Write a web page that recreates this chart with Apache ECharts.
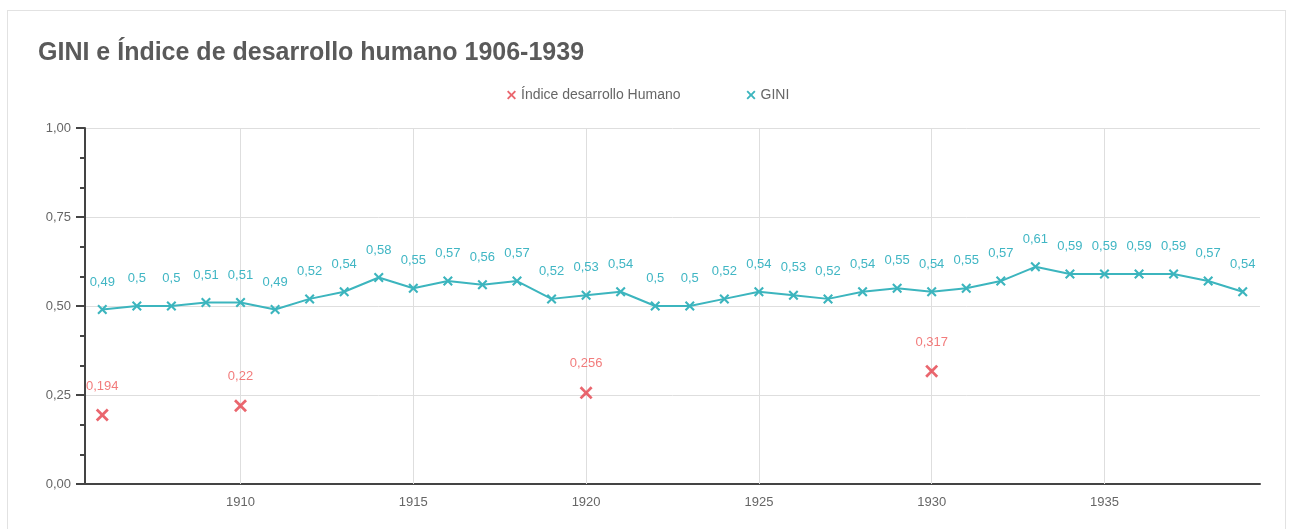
<!DOCTYPE html>
<html>
<head>
<meta charset="utf-8">
<script src="https://cdn.jsdelivr.net/npm/echarts@6/dist/echarts.min.js"></script>
<style>
  html, body { margin: 0; padding: 0; background: #fff; }
  .card { position: absolute; left: 7px; top: 10px; width: 1277px; height: 540px; border: 1px solid #e2e2e2; }
  #main { position: absolute; left: 0; top: 0; width: 1291px; height: 529px; }
</style>
</head>
<body>
<div class="card"></div>
<div id="main"></div>
<script>
// años del eje x
const years = [1906, 1907, 1908, 1909, 1910, 1911, 1912, 1913, 1914, 1915, 1916, 1917,
  1918, 1919, 1920, 1921, 1922, 1923, 1924, 1925, 1926, 1927, 1928, 1929, 1930, 1931,
  1932, 1933, 1934, 1935, 1936, 1937, 1938, 1939];
// GINI por año
const gini = [0.49, 0.5, 0.5, 0.51, 0.51, 0.49, 0.52, 0.54, 0.58, 0.55, 0.57, 0.56,
  0.57, 0.52, 0.53, 0.54, 0.5, 0.5, 0.52, 0.54, 0.53, 0.52, 0.54, 0.55, 0.54, 0.55,
  0.57, 0.61, 0.59, 0.59, 0.59, 0.59, 0.57, 0.54];
// Índice de desarrollo humano (solo algunos años)
const idhYears = [1906, 1910, 1920, 1930];
const idhValues = [0.194, 0.22, 0.256, 0.317];
const yTicks = [0, 0.25, 0.5, 0.75, 1];
// años con etiqueta y línea vertical
const gridYears = [1910, 1915, 1920, 1925, 1930, 1935];

const coma = v => String(v).replace('.', ',');
const cross = 'path://M0,1.5L1.5,0L5,3.5L8.5,0L10,1.5L6.5,5L10,8.5L8.5,10L5,6.5L1.5,10L0,8.5L3.5,5Z';

const dom = document.getElementById('main');
const myChart = echarts.init(dom);

const cats = years.map(String);
const every5 = (i, v) => gridYears.includes(Number(v));

const option = {
  animation: false,
  textStyle: { fontFamily: 'Liberation Sans, Arial, sans-serif' },
  title: {
    text: 'GINI e Índice de desarrollo humano 1906-1939',
    left: 33,
    top: 36,
    textStyle: { fontSize: 25, fontWeight: 'bold', color: '#5a5a5a' }
  },
  legend: {
    top: 83,
    left: 502,
    itemWidth: 9,
    itemHeight: 9,
    itemGap: 66,
    textStyle: { fontSize: 14, color: '#666' },
    data: [
      { name: 'Índice desarrollo Humano', icon: cross },
      { name: 'GINI', icon: cross }
    ]
  },
  grid: { left: 85, right: 31, top: 128, bottom: 45 },
  xAxis: {
    type: 'category',
    data: cats,
    boundaryGap: true,
    axisLine: { lineStyle: { color: '#444', width: 2 } },
    axisTick: { show: false },
    axisLabel: { interval: every5, color: '#666', fontSize: 13, margin: 12 },
    splitLine: { show: false }
  },
  yAxis: {
    type: 'value',
    min: 0,
    max: 1,
    interval: 0.25,
    axisLine: { show: true, lineStyle: { color: '#444', width: 2 } },
    axisTick: { show: true, length: 9, lineStyle: { color: '#444', width: 2 } },
    minorTick: { show: true, splitNumber: 3, length: 5, lineStyle: { color: '#444', width: 2 } },
    axisLabel: { color: '#666', fontSize: 13, margin: 14, formatter: v => yTicks.includes(v) ? v.toFixed(2).replace('.', ',') : '' },
    splitLine: { lineStyle: { color: '#dedede' } }
  },
  series: [
    {
      name: 'Índice desarrollo Humano',
      type: 'scatter',
      symbol: cross,
      symbolSize: 13,
      z: 3,
      itemStyle: { color: '#e5404a' },
      label: { show: true, position: 'top', distance: 16, color: '#ef5a5a', fontSize: 13, formatter: p => coma(p.value[1]) },
      data: idhYears.map((y, i) => [String(y), idhValues[i]])
    },
    {
      name: 'GINI',
      type: 'line',
      symbol: cross,
      symbolSize: 10,
      z: 3,
      itemStyle: { color: '#3cb5be' },
      lineStyle: { color: '#3cb5be', width: 2 },
      label: { show: true, position: 'top', distance: 16, color: '#40b6c4', fontSize: 13, formatter: p => coma(p.value) },
      // líneas verticales en los años marcados
      markLine: {
        silent: true,
        symbol: 'none',
        z: 1,
        label: { show: false },
        lineStyle: { color: '#dedede', type: 'solid', width: 1 },
        data: gridYears.map(y => ({ xAxis: String(y) }))
      },
      data: gini
    }
  ]
};
myChart.setOption(option);
</script>
</body>
</html>
